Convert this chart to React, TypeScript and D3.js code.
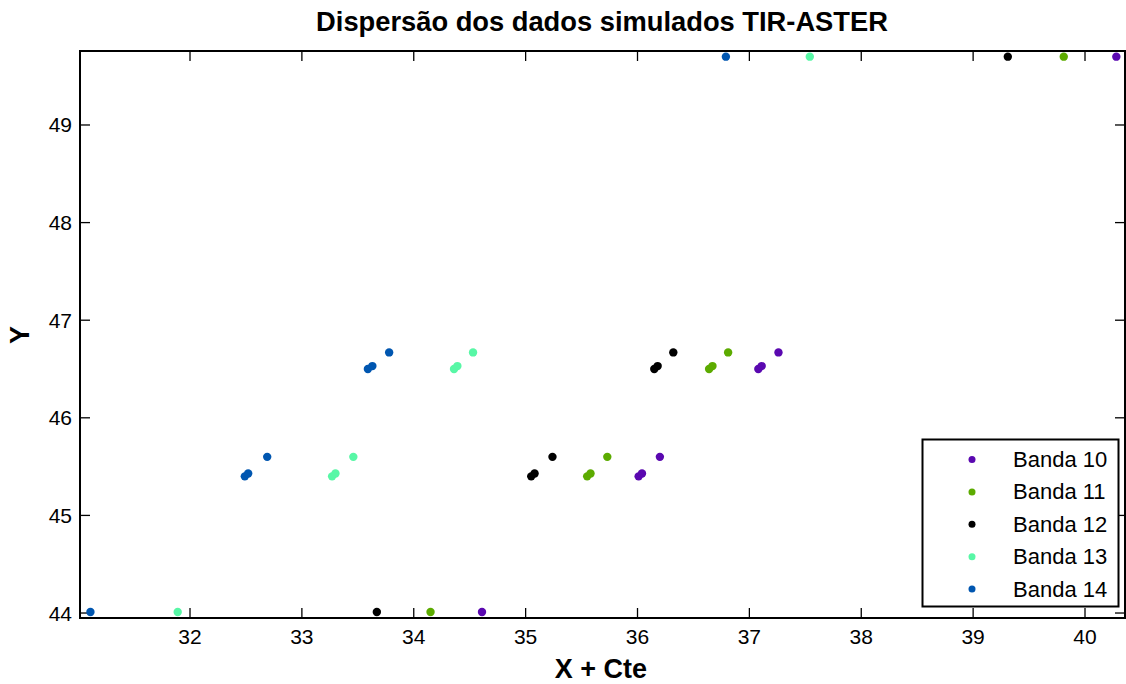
import React from "react";
import * as d3 from "d3";

const bandNames = ["Banda 10", "Banda 11", "Banda 12", "Banda 13", "Banda 14"];
const bandColors = ["#5a08b0", "#5cab00", "#000000", "#58f7a6", "#0056b0"];

// x values per band (points: bottom, pairLow a, pairLow b, singleLow, pairHigh a, pairHigh b, singleHigh, top)
const xBanda10 = [34.61, 36.01, 36.04, 36.2, 37.08, 37.11, 37.26, 40.28];
const xBanda11 = [34.15, 35.55, 35.58, 35.73, 36.64, 36.67, 36.81, 39.81];
const xBanda12 = [33.67, 35.05, 35.08, 35.24, 36.15, 36.18, 36.32, 39.31];
const xBanda13 = [31.89, 33.27, 33.3, 33.46, 34.36, 34.39, 34.53, 37.54];
const xBanda14 = [31.11, 32.49, 32.52, 32.69, 33.59, 33.63, 33.78, 36.79];
const yValues = [44.01, 45.4, 45.43, 45.6, 46.5, 46.53, 46.67, 49.7];

const xTicks = [32, 33, 34, 35, 36, 37, 38, 39, 40];
const yTicks = [44, 45, 46, 47, 48, 49];

const xSeries = [xBanda10, xBanda11, xBanda12, xBanda13, xBanda14];

export default function App() {
  const W = 1126, H = 684;
  const left = 80, right = 1125, top = 51, bottom = 618;
  const x = d3.scaleLinear().domain([31.0167, 40.3575]).range([left, right]);
  const y = d3.scaleLinear().domain([43.949, 49.758]).range([bottom, top]);
  const font = "Arial, 'Liberation Sans', sans-serif";
  const tickLen = 10;

  const legX = 922.5, legY = 439.5, legW = 196, legH = 167;
  const rowH = 32.4;

  return (
    <svg width={W} height={H} style={{ position: "absolute", left: 0, top: 0 }} fontFamily={font}>
      <rect x={0} y={0} width={W} height={H} fill="#fff" />
      {/* ticks */}
      {xTicks.map((t) => (
        <g key={"xt" + t}>
          <line x1={x(t)} x2={x(t)} y1={bottom} y2={bottom - tickLen} stroke="#000" strokeWidth={1.3} />
          <line x1={x(t)} x2={x(t)} y1={top} y2={top + tickLen} stroke="#000" strokeWidth={1.3} />
          <text x={x(t)} y={644} textAnchor="middle" fontSize={21}>{t}</text>
        </g>
      ))}
      {yTicks.map((t) => (
        <g key={"yt" + t}>
          <line x1={left} x2={left + tickLen} y1={y(t)} y2={y(t)} stroke="#000" strokeWidth={1.3} />
          <line x1={right} x2={right - tickLen} y1={y(t)} y2={y(t)} stroke="#000" strokeWidth={1.3} />
          <text x={72} y={y(t) + 7.5} textAnchor="end" fontSize={21}>{t}</text>
        </g>
      ))}
      {/* points */}
      {xSeries.map((xs, si) =>
        xs.map((xv, i) => (
          <circle key={si + "-" + i} cx={x(xv)} cy={y(yValues[i])} r={4.2} fill={bandColors[si]} />
        ))
      )}
      {/* frame */}
      <rect x={left} y={top} width={right - left} height={bottom - top} fill="none" stroke="#000" strokeWidth={2} />
      {/* legend */}
      <rect x={legX} y={legY} width={legW} height={legH} fill="#fff" stroke="#000" strokeWidth={2} />
      {bandNames.map((n, i) => (
        <g key={n}>
          <circle cx={972} cy={legY + 20 + i * rowH} r={3.5} fill={bandColors[i]} />
          <text x={1013} y={legY + 20 + i * rowH + 7.5} fontSize={22}>{n}</text>
        </g>
      ))}
      {/* titles */}
      <text x={602} y={31} textAnchor="middle" fontSize={27.3} fontWeight="bold">Dispersão dos dados simulados TIR-ASTER</text>
      <text x={601} y={678} textAnchor="middle" fontSize={27} fontWeight="bold">X + Cte</text>
      <text transform="translate(29,335) rotate(-90)" textAnchor="middle" fontSize={27} fontWeight="bold">Y</text>
    </svg>
  );
}
